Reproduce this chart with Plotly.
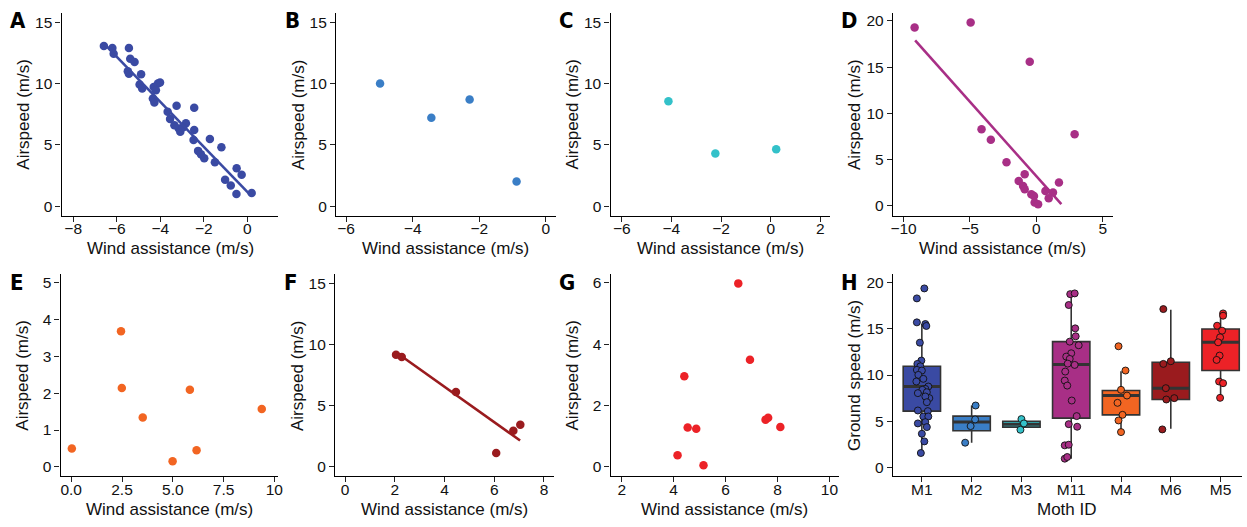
import plotly.graph_objects as go

# ---------------- DATA ----------------
# Panel A (moth M1): wind assistance vs airspeed
a_wind = [-6.59, -6.20, -6.14, -5.44, -5.38, -5.18, -5.44, -5.49, -4.88, -4.95, -4.83, -4.30,
          -4.11, -4.01, -4.34, -4.27, -3.66, -3.55, -3.25, -3.15, -3.08, -2.82, -3.35, -2.95,
          -2.44, -2.44, -2.47, -1.72, -2.26, -1.98, -2.13, -1.49, -1.19, -1.02, -0.76, -0.49,
          -0.26, -0.50, 0.20, -4.20]
a_air = [13.06, 12.90, 12.43, 12.90, 12.03, 11.76, 10.81, 11.00, 10.76, 9.92, 9.59, 9.73,
         10.00, 10.08, 8.78, 8.46, 7.70, 7.11, 8.19, 6.35, 6.08, 6.76, 6.60, 6.45,
         8.03, 6.22, 5.41, 5.49, 4.52, 3.92, 4.24, 3.59, 4.81, 2.16, 1.70, 3.10,
         2.57, 1.00, 1.08, 9.45]
a_fit_x = [-6.55, 0.10]
a_fit_y = [13.20, 1.00]

# Panel B (M2)
b_wind = [-4.98, -3.44, -2.29, -0.88]
b_air = [10.00, 7.22, 8.70, 2.03]

# Panel C (M3)
c_wind = [-4.12, -2.23, 0.22]
c_air = [8.57, 4.30, 4.65]

# Panel D (M11)
d_wind = [-9.17, -4.95, -0.50, -4.13, -3.43, -2.25, 2.88, -0.88, -1.33, -1.00, -0.88,
          -0.38, -0.18, -0.13, 0.13, 0.68, 1.25, 0.93, 1.70]
d_air = [19.28, 19.82, 15.57, 8.29, 7.14, 4.72, 7.75, 3.42, 2.70, 2.16, 1.80,
         1.26, 1.08, 0.36, 0.18, 1.62, 1.44, 0.83, 2.52]
d_fit_x = [-9.13, 1.88]
d_fit_y = [17.90, 0.18]

# Panel E (M4)
e_wind = [0.03, 2.45, 2.49, 3.52, 4.99, 5.84, 6.17, 9.38]
e_air = [0.50, 3.68, 2.14, 1.34, 0.15, 2.09, 0.45, 1.57]

# Panel F (M6)
f_wind = [2.05, 2.28, 4.46, 6.08, 6.77, 7.05]
f_air = [9.19, 9.00, 6.14, 1.14, 2.97, 3.46]
f_fit_x = [2.09, 7.04]
f_fit_y = [9.32, 2.16]

# Panel G (M5)
g_wind = [6.49, 6.94, 4.41, 4.54, 4.87, 7.54, 7.64, 8.11, 4.15, 5.15]
g_air = [5.98, 3.49, 2.95, 1.28, 1.24, 1.54, 1.60, 1.30, 0.38, 0.05]

# Panel H: ground speed per moth
moth_ids = ["M1", "M2", "M3", "M11", "M4", "M6", "M5"]
h_q1 = [6.09, 3.96, 4.36, 5.33, 5.69, 7.35, 10.49]
h_median = [8.76, 4.90, 4.68, 11.14, 7.78, 8.58, 13.55]
h_q3 = [10.95, 5.55, 5.00, 13.62, 8.32, 11.39, 14.99]
h_lower = [1.55, 2.67, 4.07, 0.94, 3.82, 4.18, 7.53]
h_upper = [15.53, 6.70, 5.23, 18.85, 10.41, 17.08, 16.68]

h_speed = [
    [19.39, 18.31, 15.71, 15.53, 15.32, 13.51, 11.57, 11.21, 10.95, 10.56, 10.49, 10.02,
     9.59, 9.30, 8.76, 8.50, 8.40, 8.14, 8.04, 7.50, 7.68, 7.06, 6.16, 6.09, 5.51, 5.51,
     4.90, 4.76, 4.36, 3.64, 2.81, 1.55],
    [6.70, 5.19, 4.47, 2.67],
    [5.23, 4.76, 4.07],
    [18.77, 18.85, 17.59, 15.06, 14.20, 13.62, 13.23, 12.36, 12.00, 11.75, 11.24, 11.10,
     10.38, 9.40, 8.86, 7.24, 5.55, 4.68, 4.40, 2.38, 2.45, 0.94, 1.12],
    [13.12, 10.49, 8.40, 7.78, 6.99, 5.69, 5.08, 3.82],
    [17.15, 11.50, 11.21, 8.58, 7.35, 7.50, 4.11],
    [16.68, 16.43, 15.35, 14.81, 14.09, 13.55, 12.11, 11.64, 9.30, 9.12, 7.53],
]
h_jitter = [
    [0.05, -0.10, -0.10, 0.07, 0.09, -0.04, -0.01, -0.09, -0.03, -0.10, 0.00, -0.07,
     0.03, -0.11, 0.13, 0.07, 0.01, 0.10, -0.08, 0.15, 0.07, 0.10, -0.08, 0.12, 0.03, 0.13,
     0.07, -0.08, 0.10, 0.00, 0.05, -0.02],
    [0.08, 0.07, -0.02, -0.13],
    [0.00, 0.05, -0.02],
    [-0.02, 0.07, -0.05, 0.08, 0.09, -0.03, 0.15, 0.00, -0.10, -0.03, -0.07, 0.07,
     -0.12, -0.13, -0.08, 0.01, 0.11, -0.05, 0.12, -0.13, -0.05, -0.13, -0.08],
    [-0.05, 0.09, 0.00, 0.12, -0.07, 0.03, -0.05, 0.00],
    [-0.15, 0.00, -0.15, -0.10, -0.09, 0.07, -0.17],
    [0.05, 0.05, -0.07, 0.03, -0.01, -0.05, -0.02, -0.08, -0.03, 0.05, -0.01],
]

moth_colors = ["#3A4AA3", "#3A7EC6", "#33C1C9", "#A82F86", "#F26522", "#9A1B1E", "#EC2227"]

# ---------------- LAYOUT ----------------
W, H = 1247, 527
FONT = "Liberation Sans, Arial, Helvetica, sans-serif"
LETTER_FONT = "Liberation Sans Narrow, Arial Narrow, DejaVu Sans Condensed, Liberation Sans, sans-serif"


def fx(p):
    return p / W


def fy(p):
    return 1 - p / H


panels = [
    dict(letter="A", l=60, r=278, t=12, b=215, xr=[-8.53, 1.43], yr=[-0.75, 15.75],
         xt=[-8, -6, -4, -2, 0], yt=[0, 5, 10, 15]),
    dict(letter="B", l=336, r=557, t=12, b=215, xr=[-6.3, 0.3], yr=[-0.75, 15.75],
         xt=[-6, -4, -2, 0], yt=[0, 5, 10, 15]),
    dict(letter="C", l=612, r=833, t=12, b=215, xr=[-6.45, 2.4], yr=[-0.75, 15.75],
         xt=[-6, -4, -2, 0, 2], yt=[0, 5, 10, 15]),
    dict(letter="D", l=896, r=1117, t=12, b=215, xr=[-10.8, 5.75], yr=[-1.05, 20.85],
         xt=[-10, -5, 0, 5], yt=[0, 5, 10, 15, 20]),
    dict(letter="E", l=59, r=278, t=274, b=476, xr=[-0.52, 10.2], yr=[-0.25, 5.22],
         xt=[0, 2.5, 5, 7.5, 10], xtt=["0.0", "2.5", "5.0", "7.5", "10"], yt=[0, 1, 2, 3, 4, 5]),
    dict(letter="F", l=335, r=555, t=274, b=476, xr=[-0.4, 8.4], yr=[-0.75, 15.75],
         xt=[0, 2, 4, 6, 8], yt=[0, 5, 10, 15]),
    dict(letter="G", l=612, r=842, t=274, b=476, xr=[1.57, 10.38], yr=[-0.3, 6.27],
         xt=[2, 4, 6, 8, 10], yt=[0, 2, 4, 6]),
    dict(letter="H", l=896, r=1247, t=274, b=476, xr=[-0.58, 6.43], yr=[-0.95, 20.9],
         xt=list(range(len(moth_ids))), xtt=moth_ids, yt=[0, 5, 10, 15, 20]),
]

fig = go.Figure()
layout = dict(width=W, height=H, margin=dict(l=0, r=0, t=0, b=0),
              paper_bgcolor="white", plot_bgcolor="white", showlegend=False,
              font=dict(family=FONT, color="#111111"))
annotations = []

for i, p in enumerate(panels):
    n = "" if i == 0 else str(i + 1)
    axis_common = dict(showline=True, linecolor="black", linewidth=1.4, ticks="outside",
                       ticklen=5, tickwidth=1.2, tickcolor="#222222", showgrid=False,
                       zeroline=False, tickfont=dict(size=15.5, family=FONT, color="#111111"),
                       fixedrange=True)
    xa = dict(axis_common, domain=[fx(p["l"]), fx(p["r"])], range=p["xr"],
              tickvals=p["xt"], anchor="y" + n, ticklabelstandoff=-6)
    if "xtt" in p:
        xa["ticktext"] = p["xtt"]
    ya = dict(axis_common, domain=[fy(p["b"]), fy(p["t"])], range=p["yr"],
              tickvals=p["yt"], anchor="x" + n)
    layout["xaxis" + n] = xa
    layout["yaxis" + n] = ya
    p["xref"] = "x" + n
    p["yref"] = "y" + n

    # panel letter
    annotations.append(dict(text="<b>%s</b>" % p["letter"], x=fx(p["l"] - 44), y=fy(p["t"] + 8),
                            xref="paper", yref="paper", showarrow=False, xanchor="center",
                            yanchor="middle", font=dict(size=22, family=LETTER_FONT, color="black")))
    # axis titles
    xtitle = "Moth ID" if p["letter"] == "H" else "Wind assistance (m/s)"
    ytitle = "Ground speed (m/s)" if p["letter"] == "H" else "Airspeed (m/s)"
    annotations.append(dict(text=xtitle, x=fx((p["l"] + p["r"]) / 2), y=fy(p["b"] + 33),
                            xref="paper", yref="paper", showarrow=False, xanchor="center",
                            yanchor="middle", font=dict(size=17, family=FONT, color="#111111")))
    annotations.append(dict(text=ytitle, x=fx(p["l"] - 38.5), y=fy((p["t"] + p["b"]) / 2),
                            xref="paper", yref="paper", showarrow=False, xanchor="center",
                            yanchor="middle", textangle=-90,
                            font=dict(size=17, family=FONT, color="#111111")))

layout["annotations"] = annotations
fig.update_layout(**layout)


def scatter(px, py, color, panel):
    fig.add_trace(go.Scatter(x=px, y=py, mode="markers", xaxis=panel["xref"], yaxis=panel["yref"],
                             marker=dict(size=8.5, color=color, line=dict(width=0)),
                             cliponaxis=False, hoverinfo="skip"))


def fitline(px, py, color, panel):
    fig.add_trace(go.Scatter(x=px, y=py, mode="lines", xaxis=panel["xref"], yaxis=panel["yref"],
                             line=dict(color=color, width=2.6), hoverinfo="skip"))


scatter(a_wind, a_air, moth_colors[0], panels[0])
fitline(a_fit_x, a_fit_y, moth_colors[0], panels[0])
scatter(b_wind, b_air, moth_colors[1], panels[1])
scatter(c_wind, c_air, moth_colors[2], panels[2])
fitline(d_fit_x, d_fit_y, moth_colors[3], panels[3])
scatter(d_wind, d_air, moth_colors[3], panels[3])
scatter(e_wind, e_air, moth_colors[4], panels[4])
fitline(f_fit_x, f_fit_y, moth_colors[5], panels[5])
scatter(f_wind, f_air, moth_colors[5], panels[5])
scatter(g_wind, g_air, moth_colors[6], panels[6])

# Panel H boxes
ph = panels[7]
BOXW = 0.75
for i, m in enumerate(moth_ids):
    fig.add_trace(go.Box(x=[i], q1=[h_q1[i]], median=[h_median[i]], q3=[h_q3[i]],
                         lowerfence=[h_lower[i]], upperfence=[h_upper[i]], width=BOXW,
                         fillcolor=moth_colors[i], line=dict(color="#333333", width=1.6),
                         whiskerwidth=0, boxpoints=False, xaxis=ph["xref"], yaxis=ph["yref"],
                         hoverinfo="skip", name=m))
    fig.add_trace(go.Scatter(x=[i - BOXW / 2, i + BOXW / 2], y=[h_median[i], h_median[i]],
                             mode="lines", line=dict(color="#333333", width=3),
                             xaxis=ph["xref"], yaxis=ph["yref"], hoverinfo="skip"))
for i, m in enumerate(moth_ids):
    fig.add_trace(go.Scatter(x=[i + j for j in h_jitter[i]], y=h_speed[i], mode="markers",
                             marker=dict(size=7, color=moth_colors[i],
                                         line=dict(color="#111111", width=0.9)),
                             xaxis=ph["xref"], yaxis=ph["yref"], cliponaxis=False,
                             hoverinfo="skip"))

fig.write_html("out.html", config={"displayModeBar": False},
               post_script="document.body.style.margin='0px';document.body.style.overflow='hidden';")
